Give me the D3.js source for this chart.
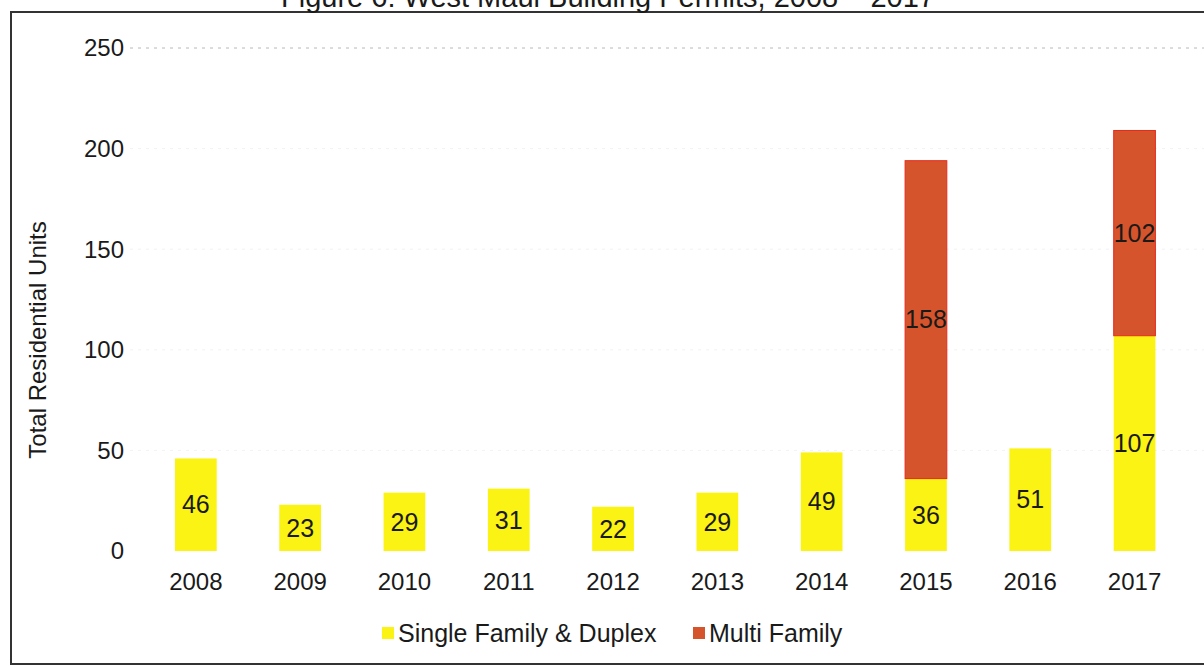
<!DOCTYPE html>
<html>
<head>
<meta charset="utf-8">
<script src="https://cdn.jsdelivr.net/npm/d3@7"></script>
<style>
  body { margin: 0; background: #fff; }
  svg { display: block; font-family: "Liberation Sans", Arial, sans-serif; }
</style>
</head>
<body>
<div id="mainGraphic"></div>
<script>
let svgWidth = 1204
let svgHeight = 667

let years = ["2008", "2009", "2010", "2011", "2012", "2013", "2014", "2015", "2016", "2017"]
let singleFamily = [46, 23, 29, 31, 22, 29, 49, 36, 51, 107]
let multiFamily = [0, 0, 0, 0, 0, 0, 0, 158, 0, 102]
let yTicks = [0, 50, 100, 150, 200, 250]
let seriesNames = ["Single Family & Duplex", "Multi Family"]

let yellow = "#fbf313"
let red = "#d6542b"

renderChart();

function renderChart(){
  let graphic = d3.select("#mainGraphic")
    .append("svg")
      .attr("width", svgWidth)
      .attr("height", svgHeight)

  // frame, cut off on the right like the scan
  graphic.append("rect")
    .attr("x", 11).attr("y", 12)
    .attr("width", 1210).attr("height", 652)
    .attr("fill", "none")
    .attr("stroke", "#333")
    .attr("stroke-width", 2)

  // title, mostly off the top edge
  graphic.append("text")
    .attr("x", 608).attr("y", 7)
    .attr("text-anchor", "middle")
    .style("font-size", "29px")
    .style("fill", "#1a1a1a")
    .text("Figure 6: West Maui Building Permits, 2008 \u2013 2017")

  let x = d3.scaleBand()
    .domain(years)
    .range([143.7, 1186.7])
    .paddingInner(0.6)
    .paddingOuter(0.3)

  let y = d3.scaleLinear()
    .domain([0, 250])
    .range([551, 48])

  // gridlines
  graphic.append("g")
    .selectAll("line")
    .data(yTicks.filter(d => d > 0))
    .enter()
    .append("line")
      .attr("x1", 130).attr("x2", 1204)
      .attr("y1", d => y(d)).attr("y2", d => y(d))
      .attr("stroke", d => d === 250 ? "#b8b8b8" : "#f2f2f2")
      .attr("stroke-dasharray", "3,5")

  // y tick labels
  graphic.append("g")
    .selectAll("text")
    .data(yTicks)
    .enter()
    .append("text")
      .attr("x", 124)
      .attr("y", d => y(d))
      .attr("dy", "0.35em")
      .attr("text-anchor", "end")
      .style("font-size", "24px")
      .style("fill", "#1a1a1a")
      .text(d => d)

  graphic.append("text")
    .attr("transform", "translate(46,340) rotate(-90)")
    .attr("text-anchor", "middle")
    .style("font-size", "24px")
    .style("fill", "#1a1a1a")
    .text("Total Residential Units")

  let rows = years.map((yr, i) => ({ year: yr, single: singleFamily[i], multi: multiFamily[i] }))
  let stacked = d3.stack().keys(["single", "multi"])(rows)
  let fills = [yellow, red]
  let strokes = ["none", "#e8291c"]

  stacked.forEach((layer, k) => {
    let g = graphic.append("g")
    g.selectAll("rect")
      .data(layer.filter(d => d[1] > d[0]))
      .enter()
      .append("rect")
        .attr("x", d => x(d.data.year))
        .attr("y", d => y(d[1]))
        .attr("width", x.bandwidth())
        .attr("height", d => y(d[0]) - y(d[1]))
        .attr("fill", fills[k])
        .attr("stroke", strokes[k])
        .attr("stroke-width", 1)
    g.selectAll("text")
      .data(layer.filter(d => d[1] > d[0]))
      .enter()
      .append("text")
        .attr("x", d => x(d.data.year) + x.bandwidth() / 2)
        .attr("y", d => (y(d[0]) + y(d[1])) / 2)
        .attr("dy", "0.35em")
        .attr("text-anchor", "middle")
        .style("font-size", "25px")
        .style("fill", "#1a1a1a")
        .text(d => d[1] - d[0])
  })

  // x labels
  graphic.append("g")
    .selectAll("text")
    .data(years)
    .enter()
    .append("text")
      .attr("x", d => x(d) + x.bandwidth() / 2)
      .attr("y", 590)
      .attr("text-anchor", "middle")
      .style("font-size", "24px")
      .style("fill", "#1a1a1a")
      .text(d => d)

  // legend
  let legendX = [382, 693]
  let legend = graphic.append("g")
    .selectAll("g")
    .data(seriesNames)
    .enter()
    .append("g")
      .attr("transform", (d, i) => "translate(" + legendX[i] + ",627)")
  legend.append("rect")
    .attr("width", 12).attr("height", 12)
    .attr("fill", (d, i) => fills[i])
  legend.append("text")
    .attr("x", 16).attr("y", 15)
    .style("font-size", "25px")
    .style("fill", "#1a1a1a")
    .text(d => d)
}
</script>
</body>
</html>
